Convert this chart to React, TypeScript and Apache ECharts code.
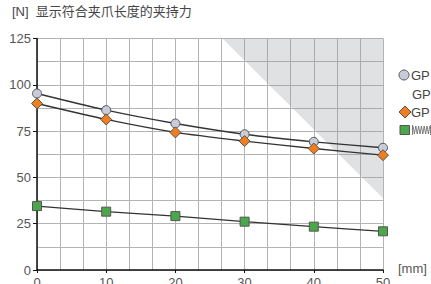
import React, { useEffect, useRef } from "react";
import * as echarts from "echarts";

const xValues = [0, 10, 20, 30, 40, 50];
const seriesCircle = [95.3, 86.3, 79.1, 73.3, 69.2, 66.0];
const seriesDiamond = [89.9, 81.3, 74.3, 69.6, 65.6, 62.0];
const seriesSquare = [34.5, 31.5, 29.1, 26.1, 23.4, 20.9];
const greyZone = [[26.8, 125], [50, 38.8]];
const legendLabels = ["GP", "GP", "GP", ""];
const titleText = "[N]  显示符合夹爪长度的夹持力";
const xUnit = "[mm]";

const FONT = "'Liberation Sans', 'Noto Sans CJK SC', sans-serif";

export default function App() {
  const ref = useRef<HTMLDivElement>(null);
  useEffect(() => {
    if (!ref.current) return;
    const chart = echarts.init(ref.current, null, { renderer: "svg" });
    const pair = (arr: number[]) => xValues.map((x, i) => [x, arr[i]]);
    const lineStyle = { color: "#333", width: 1.3 };
    const itemBorder = { borderColor: "#555", borderWidth: 1 };
    const zig: number[][] = [];
    for (let i = 0; i <= 12; i++) zig.push([413 + i * 1.4, i % 2 === 0 ? 126 : 134]);
    chart.setOption({
      animation: false,
      grid: { left: 37, right: 48, top: 38.5, bottom: 14, outerBoundsMode: "none", containLabel: false },
      xAxis: {
        type: "value",
        min: 0,
        max: 50,
        interval: 10,
        axisLine: { show: true, onZero: false, lineStyle: { color: "#111", width: 1.5 } },
        axisTick: { show: true, length: 3, lineStyle: { color: "#111" } },
        axisLabel: { color: "#555", fontSize: 13, margin: 6, fontFamily: FONT },
        splitLine: { show: true, lineStyle: { color: "#b3b3b3", width: 1 } },
        minorTick: { show: false, splitNumber: 3 },
        minorSplitLine: { show: true, lineStyle: { color: "#b3b3b3", width: 1 } },
      },
      yAxis: {
        type: "value",
        min: 0,
        max: 125,
        interval: 25,
        axisLine: { show: true, lineStyle: { color: "#111", width: 1.5 } },
        axisTick: { show: true, length: 4, lineStyle: { color: "#111" } },
        axisLabel: { color: "#555", fontSize: 13, margin: 6, fontFamily: FONT },
        splitLine: { show: true, lineStyle: { color: "#b3b3b3", width: 1 } },
        minorTick: { show: false, splitNumber: 2 },
        minorSplitLine: { show: true, lineStyle: { color: "#b3b3b3", width: 1 } },
      },
      series: [
        {
          type: "line",
          data: greyZone,
          symbol: "none",
          lineStyle: { width: 0 },
          areaStyle: { origin: "end", color: "rgba(150,152,160,0.42)" },
          silent: true,
          z: 1,
        },
        {
          type: "line",
          data: pair(seriesCircle),
          smooth: 0.25,
          symbol: "circle",
          symbolSize: 9,
          lineStyle,
          itemStyle: { color: "#c9cbd9", ...itemBorder },
          z: 3,
        },
        {
          type: "line",
          data: pair(seriesDiamond),
          smooth: 0.25,
          symbol: "diamond",
          symbolSize: 11,
          lineStyle,
          itemStyle: { color: "#f07d1e", ...itemBorder },
          z: 3,
        },
        {
          type: "line",
          data: pair(seriesSquare),
          smooth: 0.25,
          symbol: "rect",
          symbolSize: 9,
          lineStyle,
          itemStyle: { color: "#4aa84a", ...itemBorder },
          z: 3,
        },
      ],
      graphic: [
        {
          type: "text",
          left: 12,
          top: 5,
          style: { text: titleText, fill: "#444", fontSize: 13, fontFamily: FONT },
        },
        {
          type: "text",
          left: 398,
          top: 262,
          style: { text: xUnit, fill: "#555", fontSize: 13, fontFamily: FONT },
        },
        {
          type: "circle",
          shape: { cx: 404, cy: 75, r: 5 },
          style: { fill: "#c9cbd9", stroke: "#555", lineWidth: 1 },
        },
        {
          type: "text",
          x: 411,
          y: 75,
          style: { text: legendLabels[0], fill: "#444", fontSize: 13, fontFamily: FONT, verticalAlign: "middle" },
        },
        {
          type: "text",
          x: 412,
          y: 94,
          style: { text: legendLabels[1], fill: "#444", fontSize: 13, fontFamily: FONT, verticalAlign: "middle" },
        },
        {
          type: "polygon",
          shape: { points: [[405, 106], [411, 112], [405, 118], [399, 112]] },
          style: { fill: "#f07d1e", stroke: "#555", lineWidth: 1 },
        },
        {
          type: "text",
          x: 411,
          y: 112,
          style: { text: legendLabels[2], fill: "#444", fontSize: 13, fontFamily: FONT, verticalAlign: "middle" },
        },
        {
          type: "rect",
          shape: { x: 400, y: 125.5, width: 9.5, height: 9 },
          style: { fill: "#4aa84a", stroke: "#555", lineWidth: 1 },
        },
        {
          type: "polyline",
          shape: { points: zig },
          style: { stroke: "#666", lineWidth: 0.8, fill: "none" },
        },
        {
          type: "line",
          shape: { x1: 412.5, y1: 125, x2: 412.5, y2: 135 },
          style: { stroke: "#666", lineWidth: 0.8 },
        },
        {
          type: "line",
          shape: { x1: 430.5, y1: 125, x2: 430.5, y2: 135 },
          style: { stroke: "#666", lineWidth: 0.8 },
        },
      ],
    });
    return () => chart.dispose();
  }, []);
  return (
    <div
      ref={ref}
      style={{ position: "fixed", left: 0, top: 0, width: 431, height: 284, background: "#fff" }}
    />
  );
}
